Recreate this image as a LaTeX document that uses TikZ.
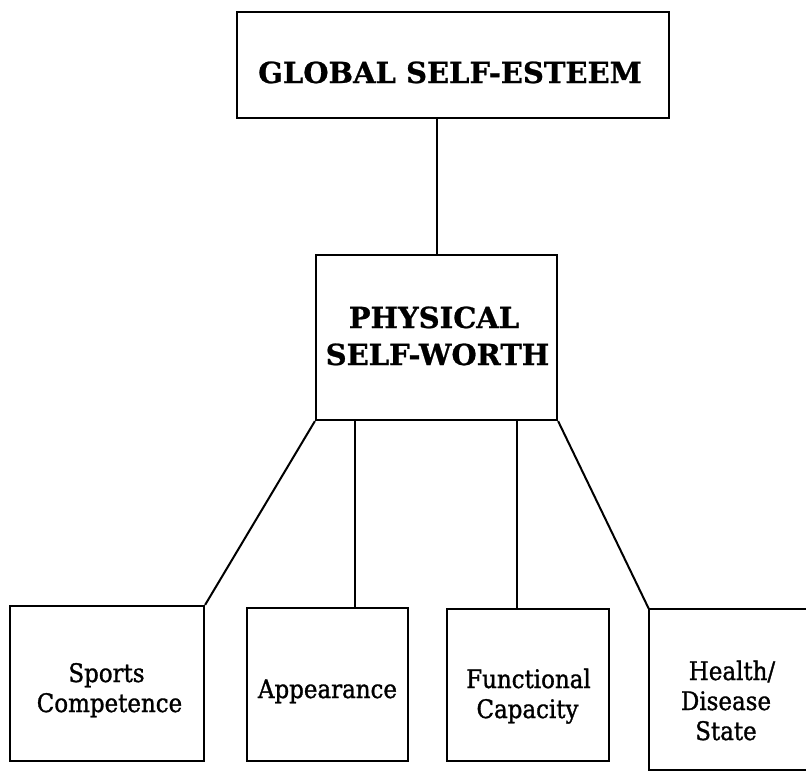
\documentclass[tikz,border=0pt]{standalone}
\usepackage{fontspec}
\setmainfont{DejaVu Serif}
\newfontfamily\labfont{DejaVu Serif}[FakeStretch=0.9, FakeBold=1.2]
\newfontfamily\headfont{DejaVu Serif Bold}[FakeBold=0.8]
\usetikzlibrary{calc}
\begin{document}
\begin{tikzpicture}[x=1pt,y=-1pt,
  box/.style={draw, line width=2.2pt, inner sep=0pt},
  conn/.style={line width=2pt},
  head/.style={font=\headfont\fontsize{29}{37}\selectfont, inner sep=0pt, anchor=base},
  lab/.style={font=\labfont\fontsize{25.5}{30}\selectfont, inner sep=0pt, anchor=base}]
\fill[white] (0,0) rectangle (806,771);
\useasboundingbox (0,0) rectangle (806,771);
% boxes
\node[box, line width=2.8pt, minimum width=432pt, minimum height=106pt] (gse) at (453,65) {};
\node[box, minimum width=241pt, minimum height=165pt] (psw) at (436.5,337.5) {};
\node[box, minimum width=194pt, minimum height=155pt] (sc) at (107,683.5) {};
\node[box, minimum width=161pt, minimum height=153pt] (app) at (327.5,684.5) {};
\node[box, minimum width=162pt, minimum height=152pt] (fc) at (528,685) {};
\node[inner sep=0pt, minimum width=157pt, minimum height=161pt] (hds) at (727.5,689.5) {};
\draw[line width=2.2pt] (hds.north east) -- (hds.north west) -- (hds.south west) -- (hds.south east);
% texts
\node[head] (tg) at (450,83) {GLOBAL SELF-ESTEEM};
\node[head] (tp1) at (434,328) {PHYSICAL};
\node[head] (tp2) at (437.5,365) {SELF-WORTH};
\node[lab] (ts1) at (106.5,682) {Sports};
\node[lab] (ts2) at (109.5,712) {Competence};
\node[lab] (ta) at (327.5,698) {Appearance};
\node[lab] (tf1) at (528.5,688) {Functional};
\node[lab] (tf2) at (527.5,718) {Capacity};
\node[lab] (th1) at (732,680) {Health/};
\node[lab] (th2) at (726,710) {Disease};
\node[lab] (th3) at (726,740) {State};
% connectors
\draw[conn] (psw.north) -- (psw.north |- gse.south);
\draw[conn] (psw.south west) -- (sc.north east);
\coordinate (pa) at ($(psw.south west)+(40,0)$);
\draw[conn] (pa) -- (pa |- app.north);
\coordinate (pf) at ($(psw.south east)+(-41,0)$);
\draw[conn] (pf) -- (pf |- fc.north);
\draw[conn] (psw.south east) -- (hds.north west);
\end{tikzpicture}
\end{document}
